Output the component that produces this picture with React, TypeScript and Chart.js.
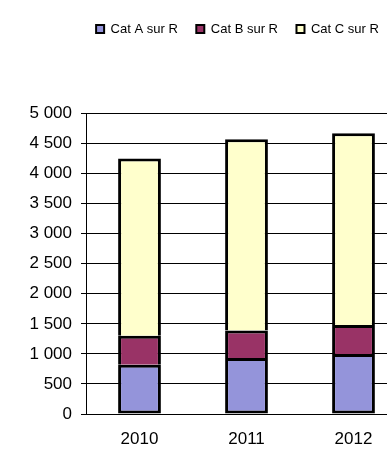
import React, { useEffect, useRef } from "react";
import { Chart, registerables } from "chart.js";

Chart.register(...registerables);

const categories = ["2010", "2011", "2012"];
const catA = [820, 930, 1000];
const catB = [480, 460, 480];
const catC = [2950, 3180, 3190];
const seriesLabels = ["Cat A sur R", "Cat B sur R", "Cat C sur R"];
const seriesColors = ["#9494DA", "#993366", "#FFFFCC"];

const fmt = (v: number) => String(v).replace(/\B(?=(\d{3})+(?!\d))/g, " ");

const legendGap = {
  id: "legendGap",
  beforeInit(chart: any) {
    const legend = chart.legend;
    if (!legend) return;
    const orig = legend.fit;
    legend.fit = function () {
      orig.call(this);
      this.height += 68;
    };
  },
};

export default function App() {
  const ref = useRef<HTMLCanvasElement | null>(null);
  useEffect(() => {
    if (!ref.current) return;
    const chart = new Chart(ref.current, {
      type: "bar",
      data: {
        labels: categories,
        datasets: [catA, catB, catC].map((d, i) => ({
          label: seriesLabels[i],
          data: d,
          backgroundColor: seriesColors[i],
          borderColor: "#000000",
          borderWidth: i === 0 ? 3 : { top: 3, left: 3, right: 3, bottom: 0 },
          borderSkipped: false,
          barPercentage: 0.4,
          categoryPercentage: 1,
        })),
      },
      plugins: [legendGap],
      options: {
        responsive: false,
        animation: false,
        layout: { padding: { top: 4, right: 0, left: 68, bottom: 0 } },
        plugins: {
          tooltip: { enabled: false },
          legend: {
            position: "top",
            labels: {
              boxWidth: 8,
              boxHeight: 8,
              color: "#000",
              padding: 18.5,
              font: { family: "Liberation Sans, Arial", size: 13 },
              generateLabels: (c: any) =>
                Chart.defaults.plugins.legend.labels.generateLabels(c).map((l: any) => ({
                  ...l,
                  lineWidth: 2,
                  strokeStyle: "#000",
                })),
            },
          },
        },
        scales: {
          x: {
            stacked: true,
            afterFit: (s: any) => {
              s.height = 35;
            },
            grid: { display: false, drawTicks: false },
            border: { display: true, color: "#000", width: 1 },
            ticks: {
              color: "#000",
              padding: 15,
              maxRotation: 0,
              font: { family: "Liberation Sans, Arial", size: 17, lineHeight: 1.2 },
            },
          },
          y: {
            stacked: true,
            min: 0,
            max: 5000,
            afterFit: (s: any) => {
              s.width = 18;
              s._computeLabelArea = () => undefined;
            },
            grid: { color: "#000", tickLength: 5, lineWidth: 1 },
            border: { display: true, color: "#000", width: 1 },
            ticks: {
              stepSize: 500,
              color: "#000",
              padding: 9,
              font: { family: "Liberation Sans, Arial", size: 17 },
              callback: (v: any) => fmt(Number(v)),
            },
          },
        },
      },
    });
    return () => chart.destroy();
  }, []);
  return (
    <div style={{ position: "absolute", left: 0, top: 0, width: 387, height: 449, overflow: "hidden", background: "#fff" }}>
      <canvas ref={ref} width={407} height={449} style={{ display: "block" }} />
    </div>
  );
}
